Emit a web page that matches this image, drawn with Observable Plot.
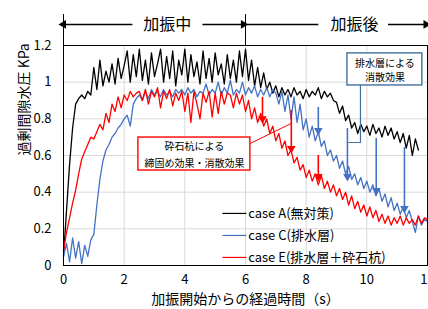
<!DOCTYPE html>
<html><head><meta charset="utf-8">
<script src="https://cdn.jsdelivr.net/npm/d3@7"></script>
<script src="https://cdn.jsdelivr.net/npm/@observablehq/plot@0.6"></script>
<style>
body{margin:0;background:#fff;}
</style>
</head><body><div id="chart"></div>
<script>
// sample interval of the digitised records (s)
const dt = 0.1;
// case A (無対策), t = 0 .. 11.7 s
const caseA = [
 0.05,0.30,0.55,0.75,0.88,0.91,0.93,0.91,0.95,0.93,
 1.08,0.96,1.12,0.98,1.06,1.00,1.10,0.99,1.13,1.02,
 1.09,1.17,1.00,1.15,1.03,1.18,1.01,1.12,0.99,1.16,
 1.03,1.10,1.18,1.00,1.14,1.02,1.17,0.98,1.12,1.04,
 1.18,1.00,1.15,1.03,1.11,0.99,1.17,1.02,1.13,1.00,
 1.16,1.04,1.10,0.99,1.15,1.02,1.12,1.00,1.17,1.03,
 1.18,1.01,1.12,0.98,1.08,0.97,1.05,0.96,1.00,0.94,
 0.98,0.92,0.97,0.93,0.96,0.92,0.97,0.93,0.95,0.91,
 0.96,0.92,0.95,0.93,0.97,0.91,0.95,0.92,0.94,0.90,
 0.89,0.83,0.87,0.79,0.82,0.75,0.78,0.72,0.77,0.73,
 0.76,0.71,0.77,0.72,0.75,0.70,0.76,0.71,0.75,0.69,
 0.73,0.67,0.72,0.64,0.71,0.60,0.69,0.63];
// case C (排水層), t = 0 .. 12 s
const caseC = [
 0.05,0.12,0.02,0.15,0.04,0.13,0.01,0.11,0.05,0.14,
 0.17,0.33,0.47,0.57,0.63,0.66,0.70,0.72,0.75,0.77,
 0.80,0.82,0.76,0.88,0.91,0.93,0.90,0.95,0.91,0.96,
 0.93,0.95,0.92,0.96,0.93,0.95,0.92,0.96,0.94,0.96,
 0.93,0.97,0.94,0.96,0.92,0.95,0.94,0.99,0.93,0.96,
 0.94,1.00,0.93,0.97,0.94,1.01,0.93,0.96,0.94,1.00,
 0.93,0.97,0.94,0.98,0.92,0.96,0.93,0.97,0.92,0.96,
 0.94,0.88,0.95,0.84,0.93,0.80,0.92,0.78,0.88,0.74,
 0.80,0.70,0.76,0.68,0.73,0.65,0.68,0.60,0.63,0.57,
 0.60,0.53,0.57,0.50,0.54,0.47,0.50,0.44,0.48,0.42,
 0.46,0.40,0.44,0.38,0.42,0.35,0.39,0.32,0.37,0.30,
 0.34,0.28,0.32,0.26,0.30,0.24,0.18,0.27,0.22,0.25,
 0.24];
// case E (排水層＋砕石杭), t = 0 .. 12 s
const caseE = [
 0.08,0.18,0.26,0.34,0.41,0.50,0.58,0.62,0.66,0.70,
 0.69,0.73,0.77,0.74,0.83,0.78,0.88,0.84,0.92,0.86,
 0.93,0.90,0.95,0.92,0.94,0.95,0.90,0.96,0.88,0.95,
 0.92,0.97,0.86,0.95,0.91,0.96,0.87,0.94,0.90,0.95,
 0.84,0.94,0.78,0.95,0.88,0.80,0.94,0.89,0.95,0.81,
 0.94,0.83,0.95,0.88,0.94,0.93,0.86,0.94,0.88,0.93,
 0.84,0.90,0.80,0.86,0.78,0.83,0.76,0.80,0.72,0.76,
 0.68,0.72,0.64,0.68,0.60,0.63,0.56,0.59,0.52,0.55,
 0.48,0.52,0.46,0.50,0.44,0.49,0.42,0.46,0.40,0.44,
 0.38,0.42,0.36,0.40,0.33,0.38,0.31,0.35,0.29,0.33,
 0.27,0.32,0.26,0.30,0.24,0.28,0.23,0.27,0.22,0.26,
 0.23,0.27,0.22,0.26,0.23,0.25,0.22,0.27,0.23,0.26,
 0.25];

const seriesNames = ["case A(無対策)", "case C(排水層)", "case E(排水層＋砕石杭)"];
const seriesColors = ["#000000", "#4472C4", "#FF0000"];
const xTicks = [0, 2, 4, 6, 8, 10, 12];
const yTicks = [0, 0.2, 0.4, 0.6, 0.8, 1, 1.2];
const xLabel = "加振開始からの経過時間（s）";
const yLabel = "過剰間隙水圧 KPa";
const phaseLabels = ["加振中", "加振後"];
const phaseBounds = [0, 6];
const noteRed = ["砕石杭による", "締固め効果・消散効果"];
const noteBlue = ["排水層による", "消散効果"];
// annotation arrows (time s, from kPa, to kPa)
const redArrows = [{t: 6.56, from: 0.917, to: 0.79}, {t: 7.51, from: 0.845, to: 0.627}, {t: 8.40, from: 0.60, to: 0.475}];
const blueArrows = [{t: 8.40, from: 0.862, to: 0.726}, {t: 9.36, from: 0.747, to: 0.475}, {t: 10.31, from: 0.693, to: 0.398}, {t: 11.24, from: 0.644, to: 0.30}];

const toRows = (vals) => vals.map((v, i) => ({t: +(i * dt).toFixed(2), p: v}));
const seriesData = [caseA, caseC, caseE].map(toRows);

const FONT = "'Noto Sans CJK JP', sans-serif";
const topY = 1.315;
const topSegs = [
  {x1: 2.27, x2: 0.0, head: true, dir: -90},
  {x1: 4.58, x2: 5.93, head: true, dir: 90},
  {x1: 6.05, x2: 8.40, head: false, dir: 90},
  {x1: 10.70, x2: 11.95, head: true, dir: 90}
];
const legendRows = seriesNames.map((n, i) => ({name: n, color: seriesColors[i], y: [0.284, 0.164, 0.044][i]}));

const boxRed = {x1: 2.47, x2: 6.16, y1: 0.518, y2: 0.698};
const boxBlue = {x1: 9.36, x2: 11.83, y1: 0.982, y2: 1.157};

const marks = [
  Plot.gridX(xTicks.slice(1, -1), {stroke: "#d9d9d9", strokeOpacity: 1}),
  Plot.gridY(yTicks.slice(1, -1), {stroke: "#d9d9d9", strokeOpacity: 1}),
  Plot.axisX(xTicks, {tickSize: 0, tickPadding: 9, fontSize: 13, label: null}),
  Plot.axisY(yTicks, {tickSize: 0, tickPadding: 12, fontSize: 13, tickFormat: d3.format("~g"), label: null}),
  Plot.text([xLabel], {frameAnchor: "bottom", dy: 38, fontSize: 14, fill: "#000"}),
  Plot.text([yLabel], {frameAnchor: "left", dx: -39, rotate: -90, fontSize: 14, fill: "#000"})
];
seriesData.forEach((d, i) => {
  marks.push(Plot.line(d, {x: "t", y: "p", stroke: seriesColors[i], strokeWidth: 1.3}));
});
marks.push(
  // effect arrows
  Plot.ruleX(redArrows, {x: "t", y1: "from", y2: "to", stroke: "#FF0000", strokeWidth: 1.6}),
  Plot.dot(redArrows, {x: "t", y: "to", symbol: "triangle", rotate: 180, r: 3.2, fill: "#FF0000", stroke: null, dy: -2}),
  Plot.ruleX(blueArrows, {x: "t", y1: "from", y2: "to", stroke: "#4472C4", strokeWidth: 1.6}),
  Plot.dot(blueArrows, {x: "t", y: "to", symbol: "triangle", rotate: 180, r: 3.2, fill: "#4472C4", stroke: null, dy: -2}),
  // connectors
  Plot.link([{x1: boxRed.x2, y1: 0.666, x2: 7.51, y2: 0.775}], {x1: "x1", y1: "y1", x2: "x2", y2: "y2", stroke: "#FF0000", strokeWidth: 1}),
  Plot.line([{x: 9.79, y: boxBlue.y1}, {x: 9.79, y: 0.671}, {x: 9.40, y: 0.671}], {x: "x", y: "y", stroke: "#41719C", strokeWidth: 1.2}),
  // boxes
  Plot.rect([boxRed], {x1: "x1", x2: "x2", y1: "y1", y2: "y2", fill: "#fff", stroke: "#FF0000", strokeWidth: 1.4}),
  Plot.text(noteRed, {x: (boxRed.x1 + boxRed.x2) / 2, y: (d, i) => [0.649, 0.556][i], fontSize: 10, fill: "#000"}),
  Plot.rect([boxBlue], {x1: "x1", x2: "x2", y1: "y1", y2: "y2", fill: "#fff", stroke: "#41719C", strokeWidth: 1.4}),
  Plot.text(noteBlue, {x: (boxBlue.x1 + boxBlue.x2) / 2, y: (d, i) => [1.102, 1.026][i], fontSize: 10, fill: "#000"}),
  // legend
  Plot.link(legendRows, {x1: 5.24, x2: 6.03, y1: "y", y2: "y", stroke: "color", strokeWidth: 1.2}),
  Plot.text(legendRows, {x: 6.09, y: "y", text: "name", textAnchor: "start", fontSize: 13, fill: "#000"}),
  // top phase annotation
  Plot.ruleX(phaseBounds, {x: d => d, y1: 1.2, y2: 1.369, stroke: "#000", strokeWidth: 1}),
  Plot.link(topSegs, {x1: "x1", x2: "x2", y1: topY, y2: topY, stroke: "#000", strokeWidth: 1.5}),
  Plot.dot(topSegs.filter(d => d.head), {x: "x2", y: topY, symbol: "triangle", rotate: "dir", r: 3.2, fill: "#000", stroke: null}),
  Plot.text(phaseLabels, {x: (d, i) => [3.42, 9.59][i], y: topY, fontSize: 16, fill: "#000"}),
  Plot.frame({stroke: "#000", strokeWidth: 1})
);

const chart = Plot.plot({
  width: 428, height: 309,
  marginLeft: 63, marginRight: 1, marginTop: 45, marginBottom: 44,
  style: {fontFamily: FONT, fontSize: "13px", background: "#fff", color: "#000"},
  x: {domain: [0, 12]},
  y: {domain: [0, 1.2]},
  marks
});
document.getElementById("chart").appendChild(chart);
</script>
</body></html>
